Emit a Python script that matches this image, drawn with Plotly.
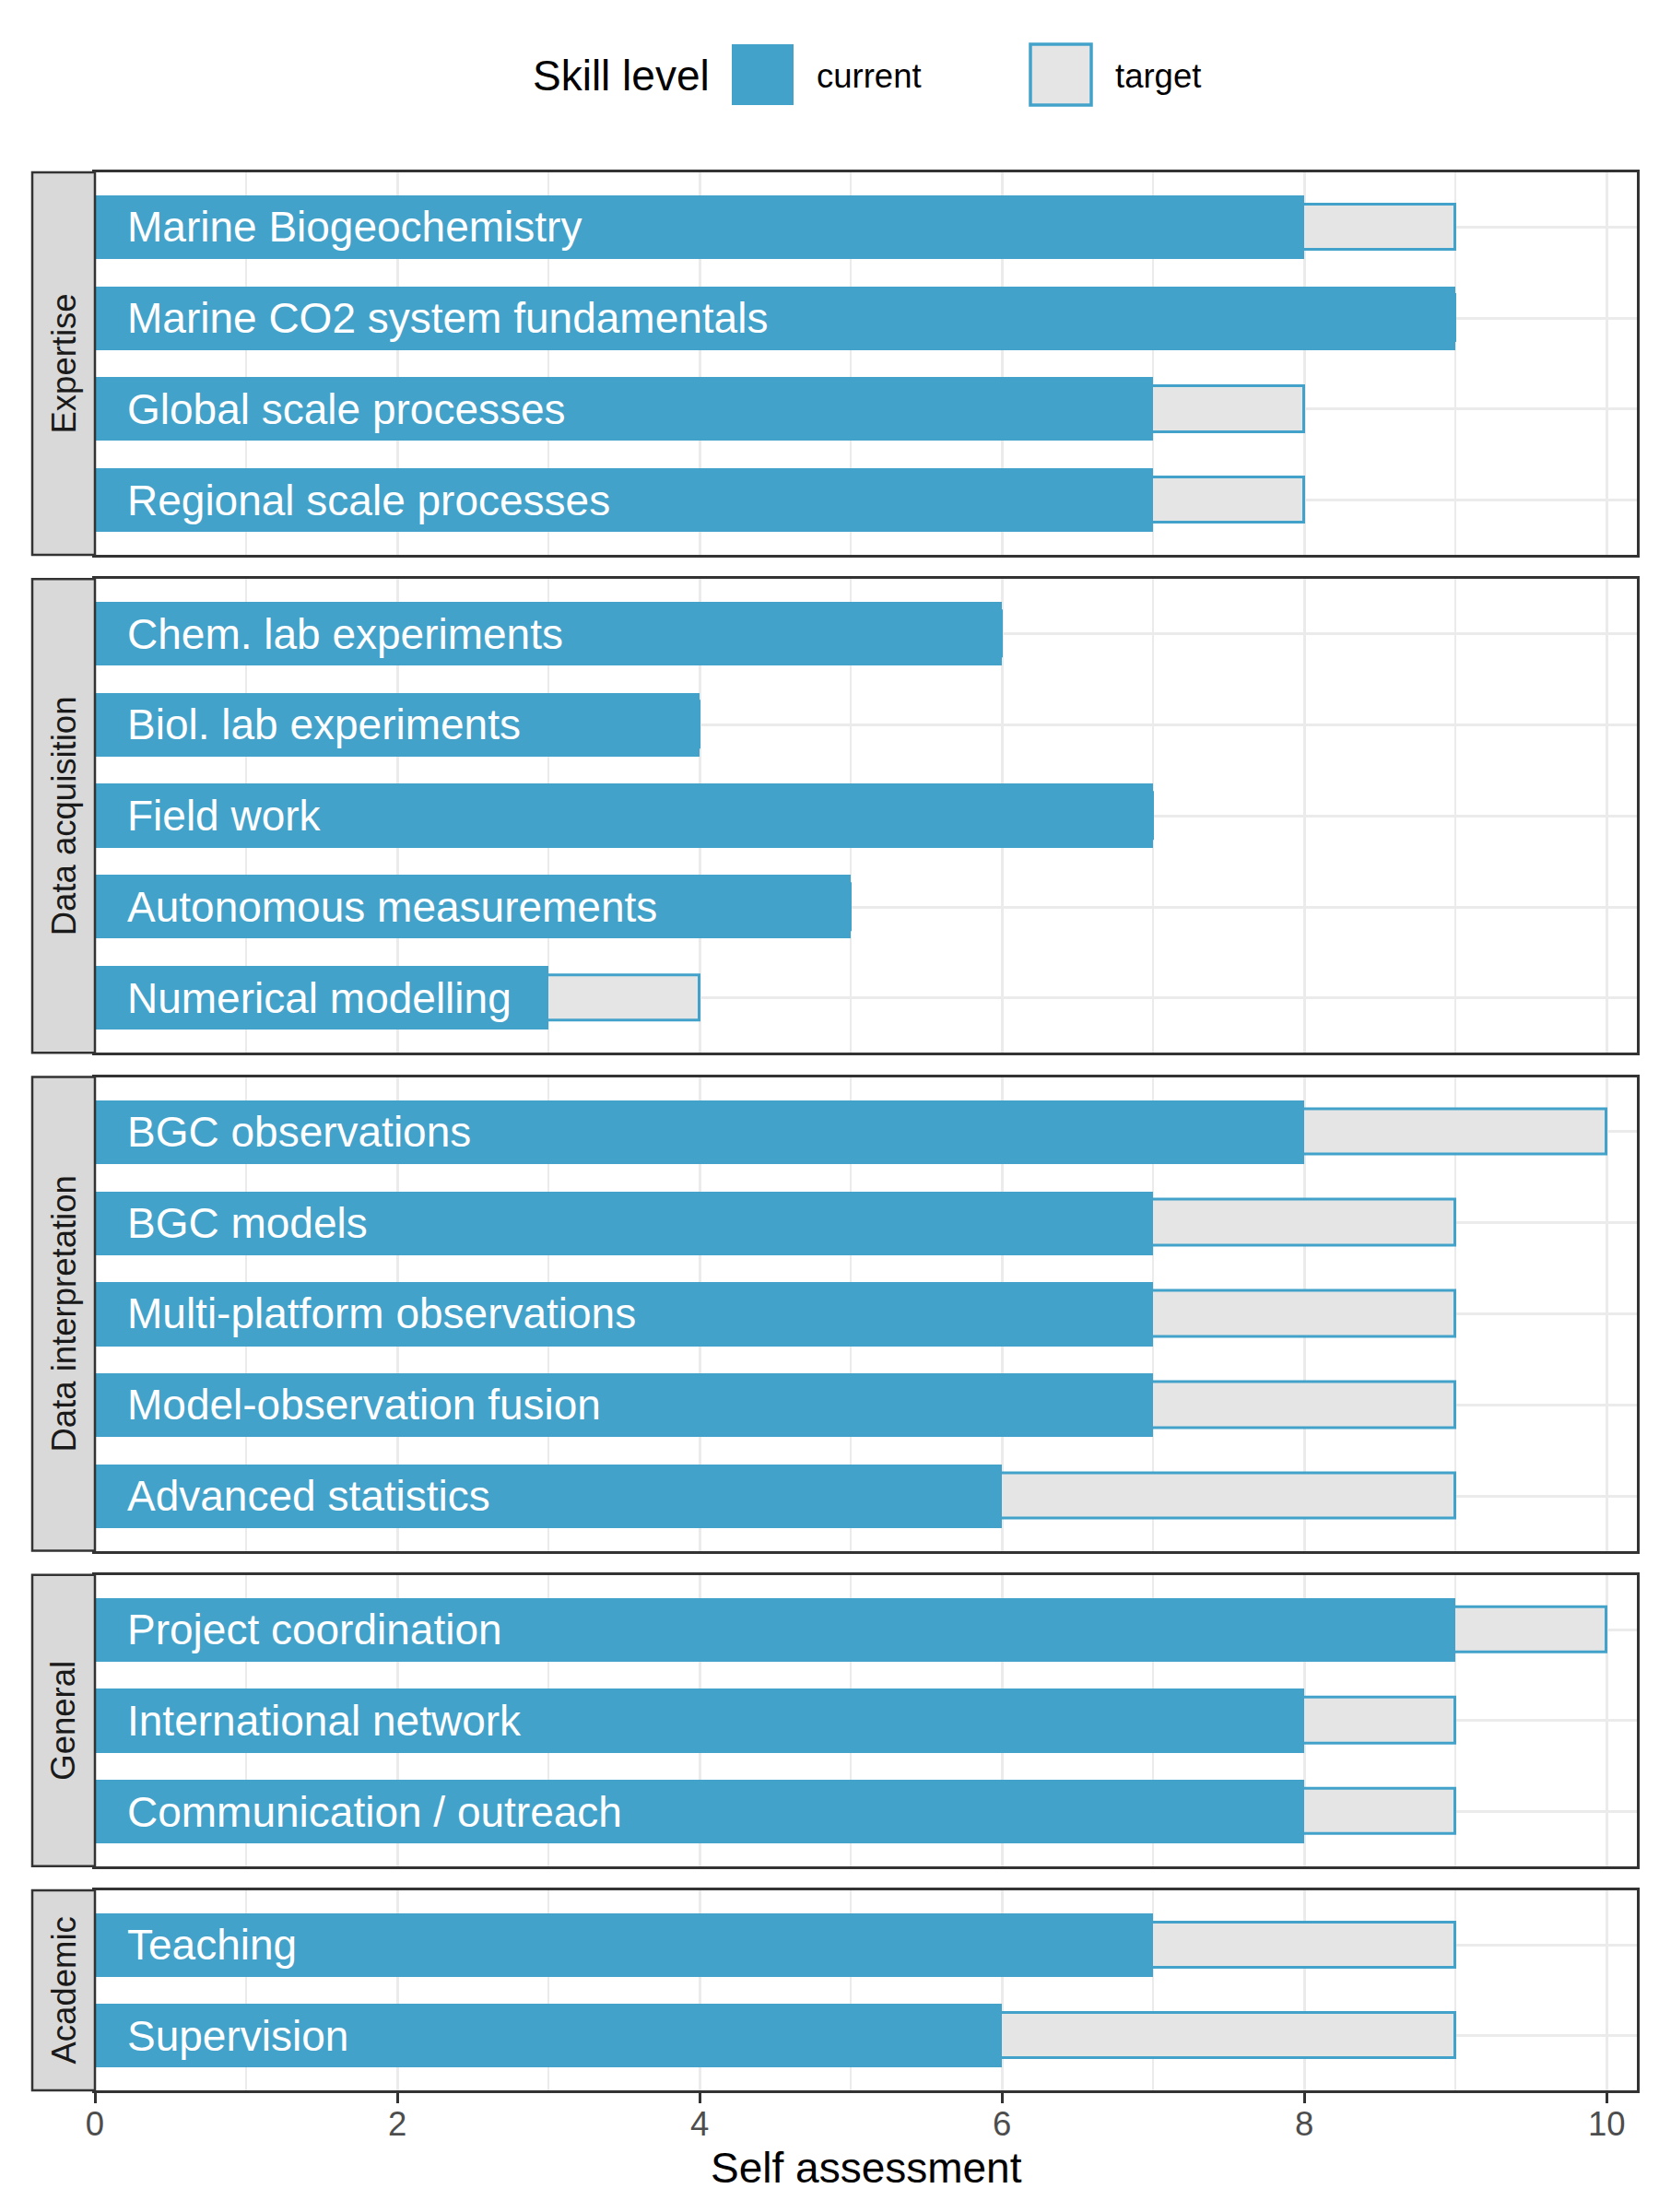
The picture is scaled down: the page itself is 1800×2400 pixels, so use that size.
import plotly.graph_objects as go

# ---------------- data ----------------
facet_names = ["Expertise", "Data acquisition", "Data interpretation", "General", "Academic"]

facet = (["Expertise"] * 4 + ["Data acquisition"] * 5 + ["Data interpretation"] * 5
         + ["General"] * 3 + ["Academic"] * 2)
skill = [
    "Marine Biogeochemistry", "Marine CO2 system fundamentals", "Global scale processes",
    "Regional scale processes",
    "Chem. lab experiments", "Biol. lab experiments", "Field work", "Autonomous measurements",
    "Numerical modelling",
    "BGC observations", "BGC models", "Multi-platform observations", "Model-observation fusion",
    "Advanced statistics",
    "Project coordination", "International network", "Communication / outreach",
    "Teaching", "Supervision",
]
current = [8, 9, 7, 7,
           6, 4, 7, 5, 3,
           8, 7, 7, 7, 6,
           9, 8, 8,
           7, 6]
target = [9, 9, 8, 8,
          6, 4, 7, 5, 4,
          10, 9, 9, 9, 9,
          10, 9, 9,
          9, 9]
x_ticks = [0, 2, 4, 6, 8, 10]
legend_title = "Skill level"
legend_labels = ["current", "target"]
x_title = "Self assessment"

# ---------------- style ----------------
W, H = 1800, 2400
BLUE = "#43A2CA"
TGT_FILL = "#E5E5E5"
GRID = "#EBEBEB"
DARK = "#333333"
FONT = "Liberation Sans, Arial, Helvetica, sans-serif"

panel_px = [(187, 602), (628.25, 1142.25), (1168.5, 1682.5), (1708.75, 2024.75), (2051, 2268)]
x_left_px, x_right_px = 103, 1776
strip_left_px = 35


def py(px):
    return 1 - px / H


def pxx(px):
    return px / W


fig = go.Figure()
annotations = []
shapes = []
layout_axes = {}

n_f = len(facet_names)
for i, f in enumerate(facet_names):
    idx = [j for j, v in enumerate(facet) if v == f]
    labels = [skill[j] for j in idx]
    cur = [current[j] for j in idx]
    tgt = [target[j] for j in idx]
    n = len(labels)
    xa = "x" if i == 0 else f"x{i + 1}"
    ya = "y" if i == 0 else f"y{i + 1}"
    fig.add_trace(go.Bar(
        y=labels, x=tgt, orientation="h", width=0.5, name="target",
        marker=dict(color=TGT_FILL, line=dict(color=BLUE, width=3)),
        xaxis=xa, yaxis=ya, showlegend=False, hoverinfo="x+y"))
    fig.add_trace(go.Bar(
        y=labels, x=cur, orientation="h", width=0.7, name="current",
        marker=dict(color=BLUE, line=dict(color=BLUE, width=0)),
        xaxis=xa, yaxis=ya, showlegend=False, hoverinfo="x+y"))
    for lab in labels:
        annotations.append(dict(
            x=0.2, y=lab, xref=xa, yref=ya, text=lab, showarrow=False,
            xanchor="left", yanchor="middle",
            font=dict(family=FONT, size=46, color="white")))

    top, bot = panel_px[i]
    last = (i == n_f - 1)
    xkey = "xaxis" if i == 0 else f"xaxis{i + 1}"
    ykey = "yaxis" if i == 0 else f"yaxis{i + 1}"
    layout_axes[xkey] = dict(
        domain=[pxx(x_left_px), pxx(x_right_px)], anchor=ya,
        range=[0, 10.2], tickvals=x_ticks, showgrid=True, gridcolor=GRID, gridwidth=3.2,
        minor=dict(dtick=1, tick0=0, showgrid=True, gridcolor=GRID, gridwidth=2),
        zeroline=False, showline=True, mirror=True, linecolor=DARK, linewidth=2.5,
        ticks="outside" if last else "", ticklen=11, tickwidth=2.5, tickcolor=DARK,
        showticklabels=last, ticklabelstandoff=-9,
        tickfont=dict(family=FONT, size=36.5, color="#4D4D4D"),
        fixedrange=True, automargin=False,
    )
    if i > 0:
        layout_axes[xkey]["matches"] = "x"
    layout_axes[ykey] = dict(
        domain=[py(bot), py(top)], anchor=xa,
        type="category", categoryorder="array", categoryarray=labels,
        range=[n - 0.4, -0.6], showticklabels=False, ticks="",
        showgrid=True, gridcolor=GRID, gridwidth=3.2, zeroline=False,
        showline=True, mirror=True, linecolor=DARK, linewidth=2.5, fixedrange=True,
        automargin=False,
    )
    # strip
    shapes.append(dict(
        type="rect", xref="paper", yref="paper",
        x0=pxx(strip_left_px), x1=pxx(x_left_px), y0=py(bot), y1=py(top),
        fillcolor="#D9D9D9", line=dict(color=DARK, width=2.5), layer="above"))
    annotations.append(dict(
        x=pxx((strip_left_px + x_left_px) / 2), y=py((top + bot) / 2),
        xref="paper", yref="paper", text=f, textangle=-90, showarrow=False,
        xanchor="center", yanchor="middle",
        font=dict(family=FONT, size=36.5, color="#1A1A1A")))

# x axis title
annotations.append(dict(
    x=pxx((x_left_px + x_right_px) / 2), y=py(2352), xref="paper", yref="paper",
    text=x_title, showarrow=False, xanchor="center", yanchor="middle",
    font=dict(family=FONT, size=46, color="black")))

# legend (drawn manually)
annotations.append(dict(
    x=pxx(576), y=py(82), xref="paper", yref="paper", text=legend_title,
    showarrow=False, xanchor="left", yanchor="middle",
    font=dict(family=FONT, size=46, color="black")))
shapes.append(dict(type="rect", xref="paper", yref="paper",
                   x0=pxx(794), x1=pxx(861), y0=py(114), y1=py(48),
                   fillcolor=BLUE, line=dict(width=0)))
annotations.append(dict(
    x=pxx(884), y=py(82), xref="paper", yref="paper", text=legend_labels[0],
    showarrow=False, xanchor="left", yanchor="middle",
    font=dict(family=FONT, size=36.5, color="black")))
shapes.append(dict(type="rect", xref="paper", yref="paper",
                   x0=pxx(1118), x1=pxx(1184), y0=py(114), y1=py(48),
                   fillcolor=TGT_FILL, line=dict(color=BLUE, width=3.5)))
annotations.append(dict(
    x=pxx(1208), y=py(82), xref="paper", yref="paper", text=legend_labels[1],
    showarrow=False, xanchor="left", yanchor="middle",
    font=dict(family=FONT, size=36.5, color="black")))

fig.update_layout(
    width=W, height=H, autosize=False,
    margin=dict(l=0, r=0, t=0, b=0, pad=0, autoexpand=False),
    paper_bgcolor="white", plot_bgcolor="white",
    barmode="overlay", bargap=0,
    font=dict(family=FONT, color="black"),
    annotations=annotations, shapes=shapes,
    showlegend=False,
    **layout_axes,
)

fig.write_html("out.html")
